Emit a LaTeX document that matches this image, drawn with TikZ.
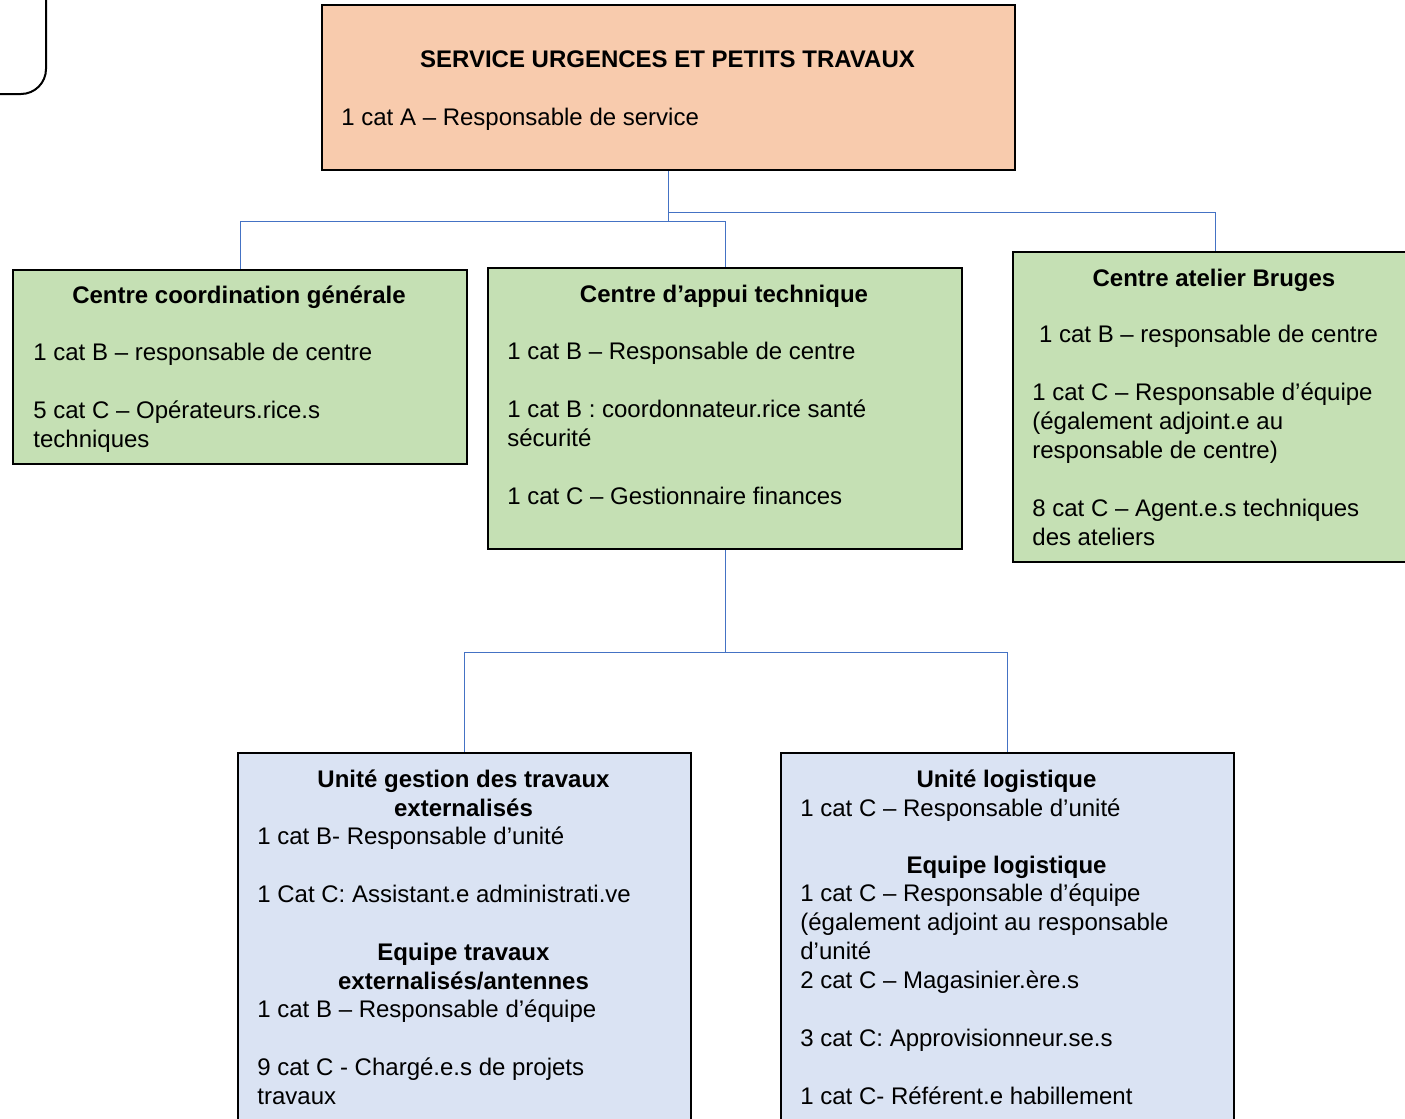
\documentclass[tikz,border=0pt]{standalone}
\usepackage{fontspec}
\setmainfont{Liberation Sans}
\definecolor{peach}{HTML}{F8CBAD}
\definecolor{sage}{HTML}{C5E0B4}
\definecolor{mist}{HTML}{DAE3F3}
\definecolor{linkblue}{HTML}{4472C4}
\newcommand\orgfont{\fontsize{12}{14.5}\selectfont}
\tikzset{
  unit/.style={draw=black, line width=1.2pt, inner sep=0pt, anchor=north west},
  head/.style={font=\orgfont\bfseries, align=center, anchor=base, inner sep=0pt},
  staff/.style={font=\orgfont, align=left, anchor=base west, inner sep=0pt},
  link/.style={draw=linkblue, line width=0.6pt}
}
\begin{document}
\begin{tikzpicture}[x=0.5pt, y=-0.5pt]
  \useasboundingbox (0,0) rectangle (1405,1119);
  \clip (0,0) rectangle (1405,1119);
  \draw[line width=1pt, rounded corners=12.5pt] (-20,94) -- (46,94) -- (46,-20);

  % text nodes sit on the baseline of their last line
  \node (srv) [unit, fill=peach, minimum width=346.5pt, minimum height=82.5pt] at (321,4) {};
  \node (srv-t) [head] at (667.5,68) {SERVICE URGENCES ET PETITS TRAVAUX};
  \node (srv-s) [staff] at (341,125) {1 cat A – Responsable de service};

  \node (ccg) [unit, fill=sage, minimum width=227pt, minimum height=97pt] at (12,269) {};
  \node (ccg-t) [head] at (239,303) {Centre coordination générale};
  \node (ccg-s) [staff] at (33,447) {1 cat B – responsable de centre\\[14.5pt]
    5 cat C – Opérateurs.rice.s\\techniques};

  \node (cat) [unit, fill=sage, minimum width=237pt, minimum height=140.5pt] at (487,267) {};
  \node (cat-t) [head] at (724,302) {Centre d’appui technique};
  \node (cat-s) [staff] at (507,504) {1 cat B – Responsable de centre\\[14.5pt]
    1 cat B : coordonnateur.rice santé\\sécurité\\[14.5pt]
    1 cat C – Gestionnaire finances};

  \node (cab) [unit, fill=sage, minimum width=202pt, minimum height=155pt] at (1012,251) {};
  \node (cab-t) [head] at (1214,286) {Centre atelier Bruges};
  \node (cab-s) [staff] at (1032,545) {\ 1 cat B – responsable de centre\\[14.5pt]
    1 cat C – Responsable d’équipe\\(également adjoint.e au\\responsable de centre)\\[14.5pt]
    8 cat C – Agent.e.s techniques\\des ateliers};

  \node (ugt) [unit, fill=mist, minimum width=226.5pt, minimum height=200pt] at (237,752) {};
  \node (ugt-t) [head] at (463.5,816) {Unité gestion des travaux\\externalisés};
  \node (ugt-s) [staff] at (257,902) {1 cat B- Responsable d’unité\\[14.5pt]
    1 Cat C: Assistant.e administrati.ve};
  \node (ugt-e) [head] at (463.5,989) {Equipe travaux\\externalisés/antennes};
  \node (ugt-m) [staff] at (257,1104) {1 cat B – Responsable d’équipe\\[14.5pt]
    9 cat C - Chargé.e.s de projets\\travaux};

  \node (ul) [unit, fill=mist, minimum width=226.5pt, minimum height=200pt] at (780,752) {};
  \node (ul-t) [head] at (1006.5,787) {Unité logistique};
  \node (ul-s) [staff] at (800,816) {1 cat C – Responsable d’unité};
  \node (ul-e) [head] at (1006.5,873) {Equipe logistique};
  \node (ul-m) [staff] at (800,1104) {1 cat C – Responsable d’équipe\\
    (également adjoint au responsable\\d’unité\\
    2 cat C – Magasinier.ère.s\\[14.5pt]
    3 cat C: Approvisionneur.se.s\\[14.5pt]
    1 cat C- Référent.e habillement};

  \begin{scope}[link]
    \draw (srv.south) -- ++(0,50) -| (ccg.north);
    \draw (srv.south) -- ++(0,50) -| (cat.north);
    \draw (srv.south) -- ++(0,41) -| (cab.north);
    \draw (cat.south) -- ++(0,102) -| (ugt.north);
    \draw (cat.south) -- ++(0,102) -| (ul.north);
  \end{scope}
\end{tikzpicture}
\end{document}
